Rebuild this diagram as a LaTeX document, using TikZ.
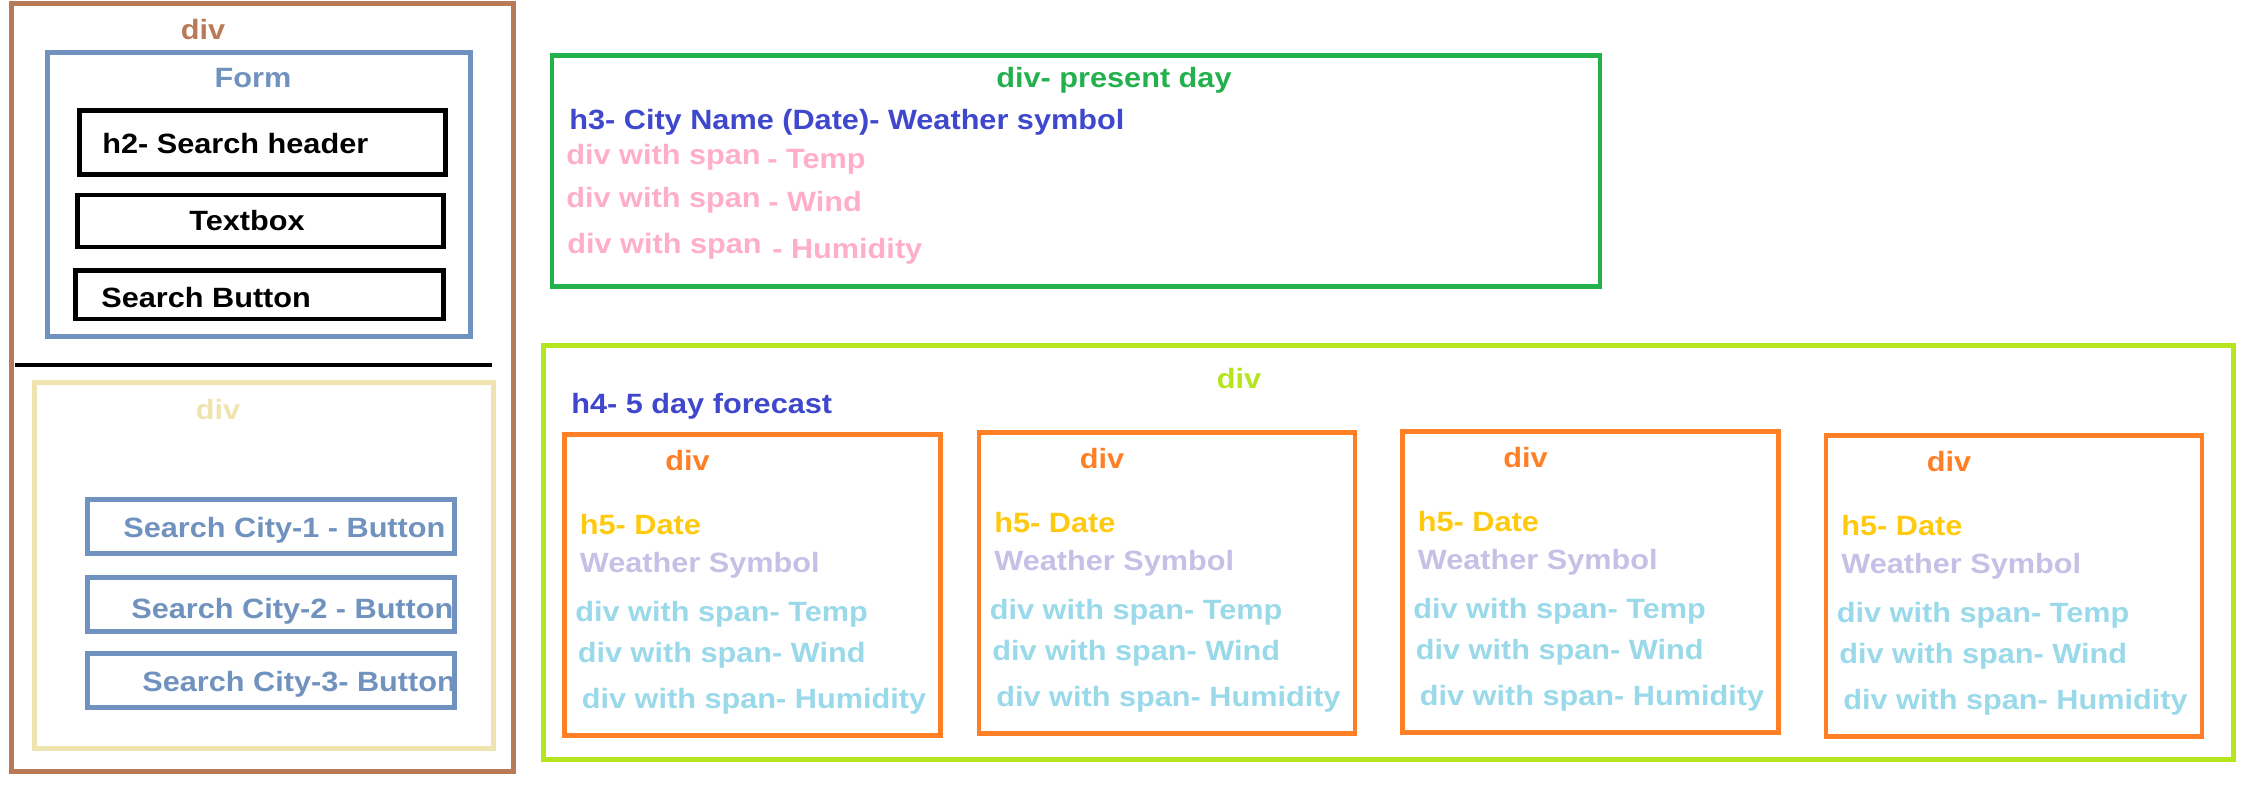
\documentclass[tikz,border=0pt]{standalone}
\usepackage{fontspec}
\usepackage{tikz}
\newfontfamily\wirefont{Liberation Sans}[FakeStretch=1.10]
\definecolor{paintbrown}{RGB}{185,122,87}
\definecolor{paintblue}{RGB}{112,146,190}
\definecolor{paintbeige}{RGB}{239,228,176}
\definecolor{paintgreen}{RGB}{34,177,76}
\definecolor{paintlime}{RGB}{181,230,29}
\definecolor{paintorange}{RGB}{255,127,39}
\definecolor{paintindigo}{RGB}{63,72,204}
\definecolor{paintpink}{RGB}{255,174,201}
\definecolor{paintgold}{RGB}{255,201,14}
\definecolor{paintlavender}{RGB}{200,191,231}
\definecolor{paintturq}{RGB}{153,217,234}
\tikzset{
    wire/.style = {line width=2.66pt},
    lbl/.style = {inner sep=0pt, anchor=base west, font=\wirefont\bfseries\fontsize{15.87pt}{19pt}\selectfont},
    mid/.style = {lbl, anchor=base}
}

\begin{document}
\begin{tikzpicture}[x = 0.02cm, y = -0.02cm]
        \fill[white] (0,0) rectangle (2259,788);
        \useasboundingbox (0,0) rectangle (2259,788);

        \draw[wire, paintbrown] (11.5,3.5) rectangle (513.5,771.5);
        \node[mid, paintbrown] (outerdiv) at (203,39) {div};
        \draw[wire, paintblue] (47.5,52.5) rectangle (470.5,336.5);
        \node[mid, paintblue] (form) at (253,87) {Form};
        \draw[wire] (79.5,110.5) rectangle (445.5,174.5);
        \node[lbl] (header) at (102,153) {h2- Search header};
        \draw[wire] (77.5,195) rectangle (443.5,247);
        \node[lbl] (textbox) at (189,230) {Textbox};
        \draw[wire] (75.5,270.5) rectangle (443.5,319);
        \node[lbl] (searchbtn) at (101,307) {Search Button};
        \draw[wire] (15,365) -- (492,365);

        \draw[wire, paintbeige] (34.5,382.5) rectangle (493.5,748.5);
        \node[mid, paintbeige] (historydiv) at (218,419) {div};
        \draw[wire, paintblue] (87.5,499.5) rectangle (454.5,553.5);
        \node[lbl, paintblue] (city1) at (123,537) {Search City-1 - Button};
        \draw[wire, paintblue] (87.5,577.5) rectangle (454.5,631.5);
        \node[lbl, paintblue] (city2) at (131,618) {Search City-2 - Button};
        \draw[wire, paintblue] (87.5,653.5) rectangle (454.5,707.5);
        \node[lbl, paintblue] (city3) at (142,691) {Search City-3- Button};

        \draw[wire, paintgreen] (552,55.5) rectangle (1600,286.5);
        \node[mid, paintgreen] (today) at (1114,87) {div- present day};
        \node[lbl, paintindigo] (cityname) at (569,129) {h3- City Name (Date)- Weather symbol};
        \node[lbl, paintpink] (span1) at (566,164) {div with span};
        \node[lbl, paintpink] (temp) at (767,168) {- Temp};
        \node[lbl, paintpink] (span2) at (566,207) {div with span};
        \node[lbl, paintpink] (wind) at (768,211) {- Wind};
        \node[lbl, paintpink] (span3) at (567,253) {div with span};
        \node[lbl, paintpink] (humidity) at (772,258) {- Humidity};

        \draw[wire, paintlime] (543.5,345.5) rectangle (2233.5,759.5);
        \node[mid, paintlime] (forecast) at (1239,388) {div};
        \node[lbl, paintindigo] (fivedays) at (571,413) {h4- 5 day forecast};

        \foreach \L/\T [count=\i] in {564.5/434.5, 979/432.5, 1402.5/431.5, 1826/435.5} {
            \begin{scope}[shift={(\L,\T)}]
                \draw[wire, paintorange] (0,0) rectangle (376,301);
                \node[mid, paintorange] (day\i) at (123,35.5) {div};
                \node[lbl, paintgold] (date\i) at (15,99.5) {h5- Date};
                \node[lbl, paintlavender] (symbol\i) at (15,138) {Weather Symbol};
                \node[lbl, paintturq] (temp\i) at (10.5,187) {div with span- Temp};
                \node[lbl, paintturq] (wind\i) at (13,228) {div with span- Wind};
                \node[lbl, paintturq] (humidity\i) at (17,274) {div with span- Humidity};
            \end{scope}
        }
    \end{tikzpicture}
\end{document}
